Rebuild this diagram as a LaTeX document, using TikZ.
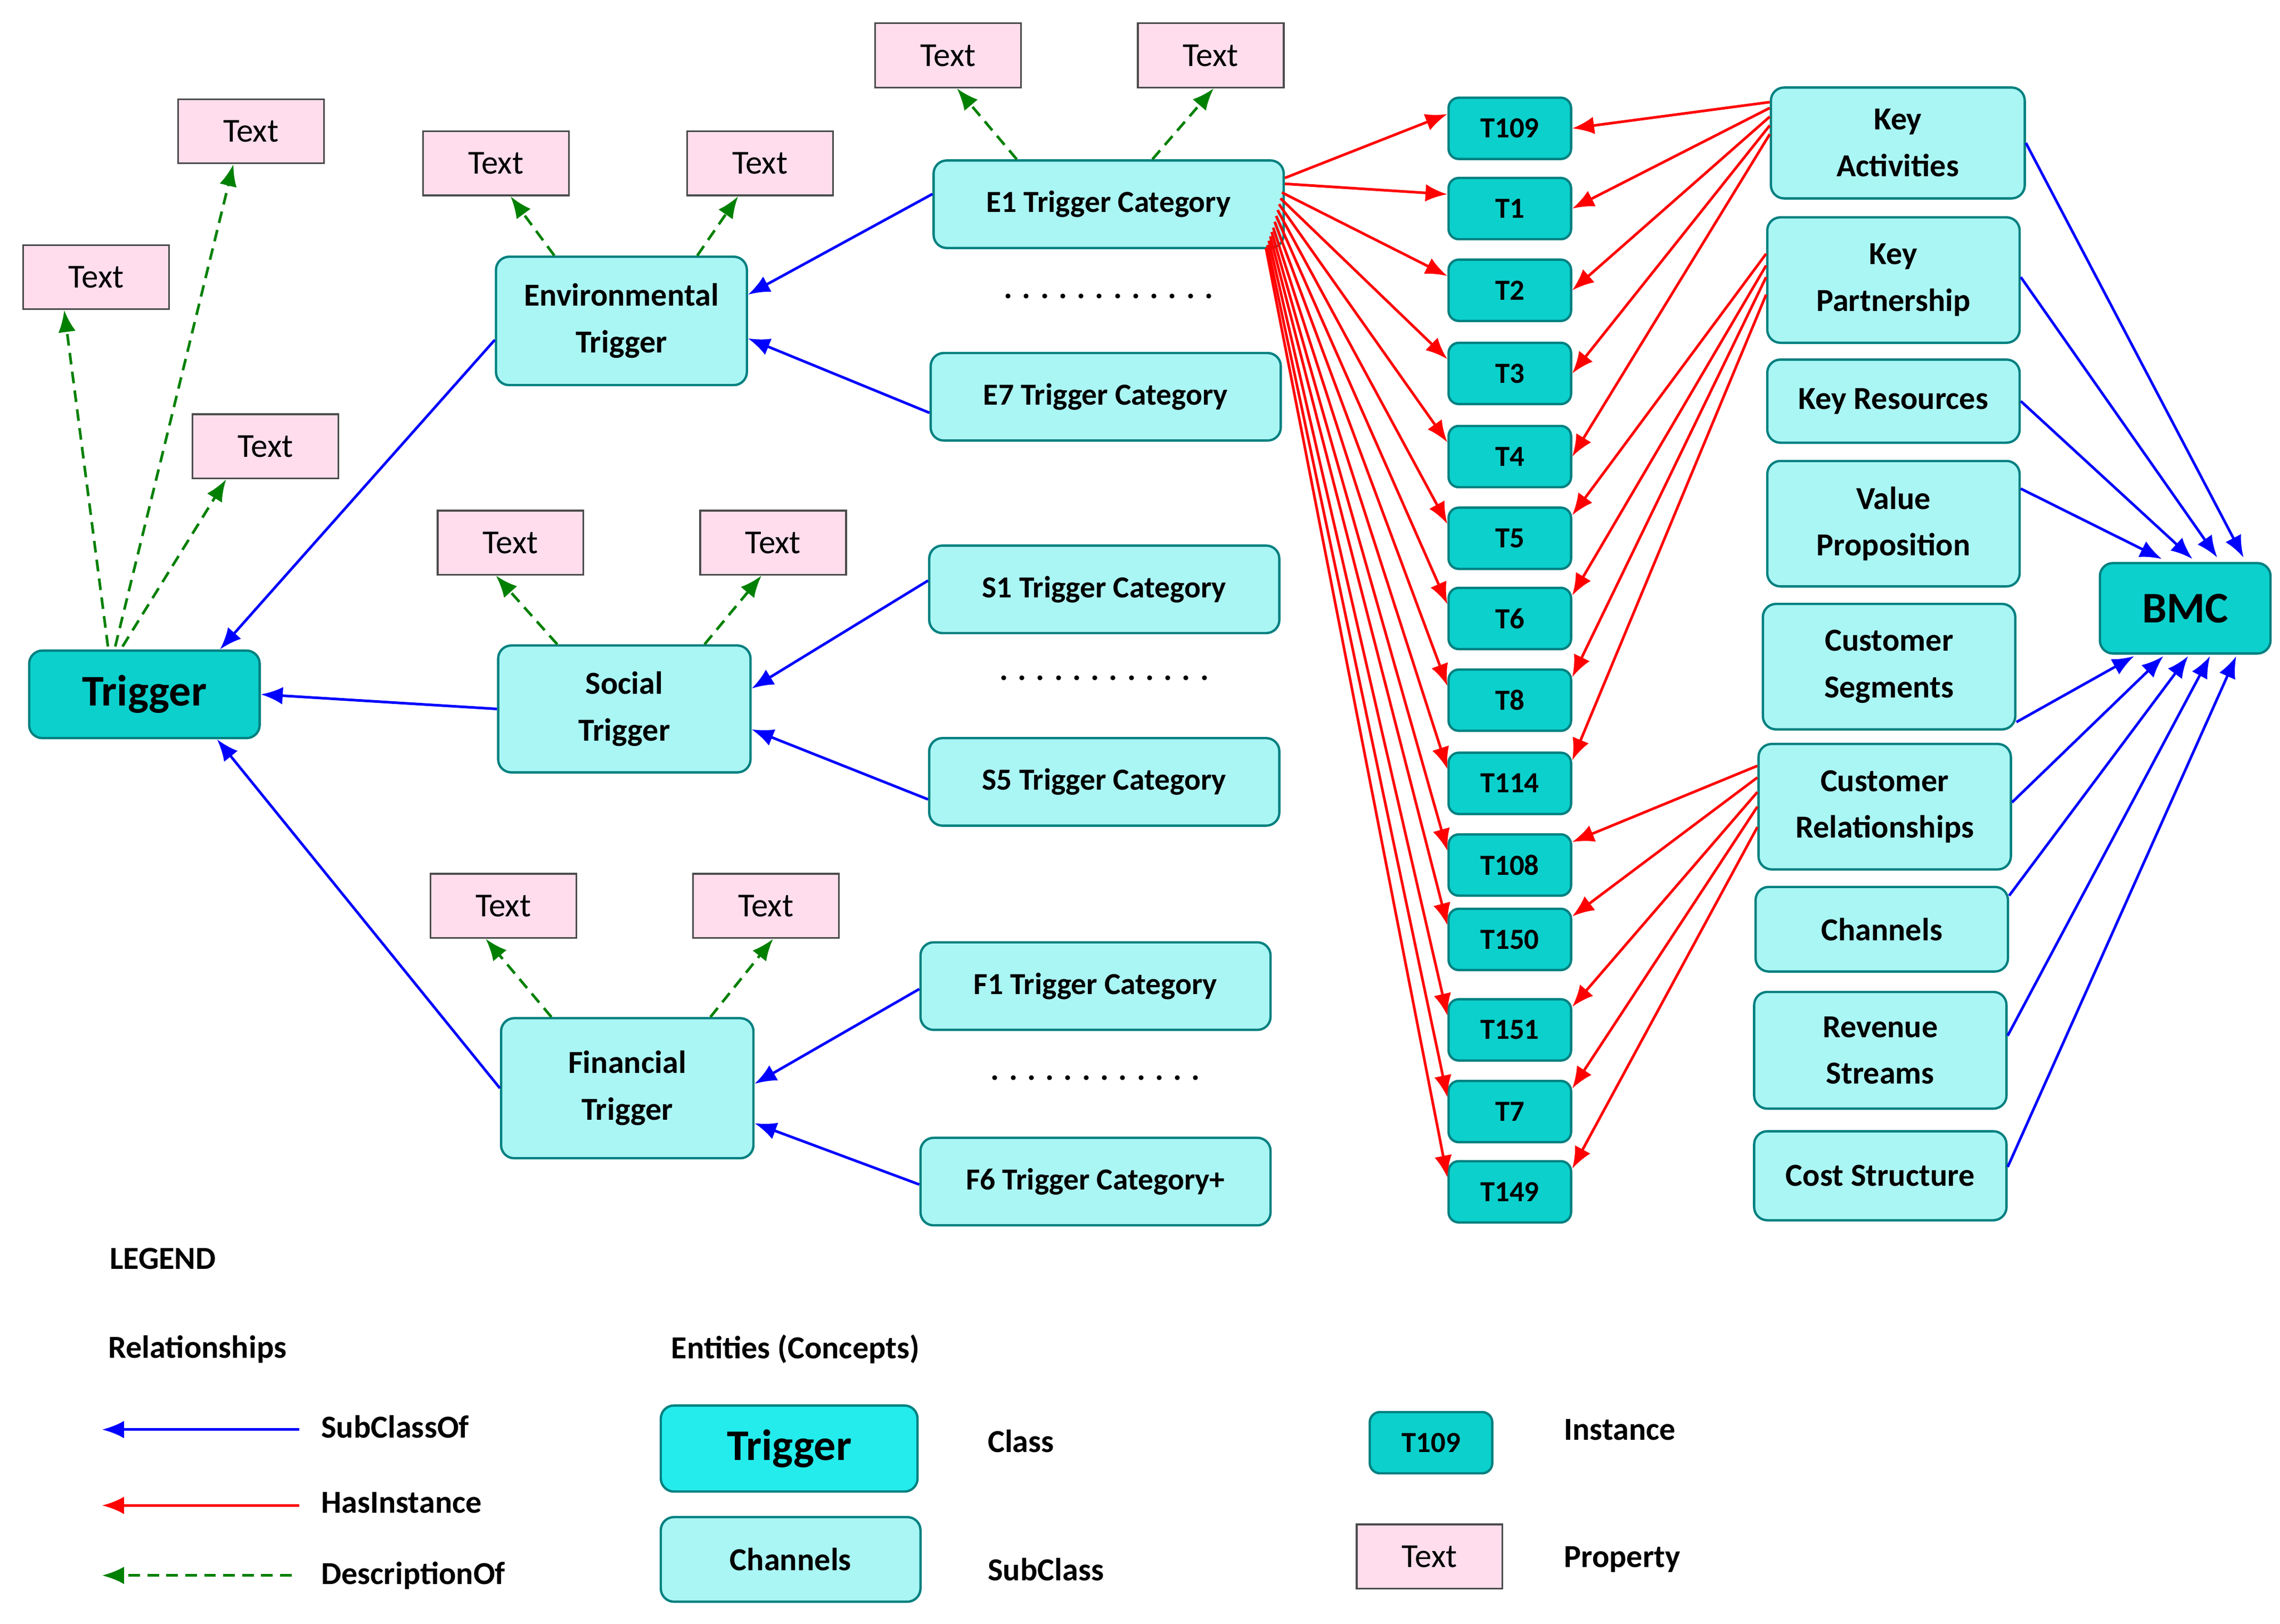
\documentclass[tikz,border=0pt]{standalone}
\usepackage{fontspec}
\setmainfont{Carlito}
\usetikzlibrary{arrows.meta,calc}
\definecolor{clsfill}{RGB}{12,208,204}
\definecolor{clsbright}{RGB}{36,236,236}
\definecolor{subfill}{RGB}{170,246,244}
\definecolor{bord}{RGB}{0,128,128}
\definecolor{pinkfill}{RGB}{255,221,236}
\definecolor{dgreen}{RGB}{0,128,0}
\tikzset{
 base/.style={draw=bord,line width=1.6pt,rounded corners=9pt,align=center,inner sep=0pt,font=\fontsize{22}{32}\selectfont\bfseries},
 sub/.style={base,fill=subfill},
 cls/.style={base,fill=clsfill,font=\fontsize{30}{36}\selectfont\bfseries},
 inst/.style={base,fill=clsfill,minimum width=84pt,minimum height=42pt,rounded corners=7pt,font=\fontsize{20}{24}\selectfont\bfseries},
 prop/.style={draw=black!70,line width=1.2pt,fill=pinkfill,minimum width=100pt,minimum height=44pt,inner sep=0pt,font=\fontsize{23}{26}\selectfont},
 blue/.style={draw=blue,line width=1.8pt,-{Latex[length=15pt,width=12pt]}},
 red/.style={draw=red,line width=1.8pt,-{Latex[length=15pt,width=12pt]}},
 green/.style={draw=dgreen,line width=1.8pt,dash pattern=on 8pt off 5pt,-{Latex[length=15pt,width=12pt]}},
 lbl/.style={anchor=west,inner sep=0pt,font=\fontsize{22}{26}\selectfont\bfseries},
}
\begin{document}
\begin{tikzpicture}[x=1pt,y=-1pt]
\useasboundingbox (0,0) rectangle (1563,1113);
% classes
\node[cls,minimum width=158pt,minimum height=60pt] (trig) at (99,476) {Trigger};
\node[sub,minimum width=172pt,minimum height=88pt] (env) at (426,220) {Environmental\\Trigger};
\node[sub,minimum width=173pt,minimum height=87pt] (soc) at (428,486) {Social\\Trigger};
\node[sub,minimum width=173pt,minimum height=96pt] (fin) at (430,746) {Financial\\Trigger};
\foreach \n/\x/\y/\t in {e1/760/140/E1 Trigger Category,e7/758/272/E7 Trigger Category,s1/757/404/S1 Trigger Category,s5/757/536/S5 Trigger Category,f1/751/676/F1 Trigger Category,f6/751/810/F6 Trigger Category+}
  \node[sub,minimum width=240pt,minimum height=60pt,font=\fontsize{21}{24}\selectfont\bfseries] (\n) at (\x,\y) {\t};
\node[font=\fontsize{22}{24}\selectfont\bfseries] (d1) at (760,203) {. . . . . . . . . . . .};
\node[font=\fontsize{22}{24}\selectfont\bfseries] (d2) at (757,465) {. . . . . . . . . . . .};
\node[font=\fontsize{22}{24}\selectfont\bfseries] (d3) at (751,739) {. . . . . . . . . . . .};
% text props
\foreach \n/\x/\y in {p1/172/90,p2/66/190,p3/182/306,p4/340/112,p5/521/112,p6/650/38,p7/830/38,p8/350/372,p9/530/372,p10/345/621,p11/525/621}
  \node[prop] (\n) at (\x,\y) {Text};
% instances
\foreach \n/\y/\t in {t109/88/T109,t1/143/T1,t2/199/T2,t3/256/T3,t4/313/T4,t5/369/T5,t6/424/T6,t8/480/T8,t114/537/T114,t108/593/T108,t150/644/T150,t151/706/T151,t7/762/T7,t149/817/T149}
  \node[inst] (\n) at (1035,\y) {\t};
% BMC blocks
\node[sub,minimum width=174pt,minimum height=76pt] (ka) at (1301,98) {Key\\Activities};
\node[sub,minimum width=173pt,minimum height=86pt] (kp) at (1298,192) {Key\\Partnership};
\node[sub,minimum width=173pt,minimum height=57pt] (kr) at (1298,275) {Key Resources};
\node[sub,minimum width=173pt,minimum height=86pt] (vp) at (1298,359) {Value\\Proposition};
\node[sub,minimum width=173pt,minimum height=86pt] (cs) at (1295,457) {Customer\\Segments};
\node[sub,minimum width=173pt,minimum height=86pt] (cr) at (1292,553) {Customer\\Relationships};
\node[sub,minimum width=173pt,minimum height=58pt] (ch) at (1290,637) {Channels};
\node[sub,minimum width=173pt,minimum height=80pt] (rs) at (1289,720) {Revenue\\Streams};
\node[sub,minimum width=173pt,minimum height=61pt] (cst) at (1289,806) {Cost Structure};
\node[cls,minimum width=117pt,minimum height=62pt] (bmc) at (1498,417) {BMC};
% blue subclass arrows
\draw[blue] (env.west |- 0,233) -- ($(trig.north east)+(-28,0)$);
\draw[blue] (soc.west) -- (trig.east);
\draw[blue] (fin.west) -- ($(trig.south east)+(-30,0)$);
\draw[blue] ($(e1.west)+(0,-7)$) -- ($(env.east)+(0,-18)$);
\draw[blue] ($(e7.west)+(0,11)$) -- ($(env.east)+(0,12)$);
\draw[blue] ($(s1.west)+(0,-6)$) -- ($(soc.east)+(0,-14)$);
\draw[blue] ($(s5.west)+(0,12)$) -- ($(soc.east)+(0,14)$);
\draw[blue] ($(f1.west)+(0,2)$) -- ($(fin.east)+(0,-3)$);
\draw[blue] ($(f6.west)+(0,2)$) -- ($(fin.east)+(0,24)$);
\draw[blue] ($(ka.east)+(0,0)$) -- ($(bmc.north)+(40,-3)$);
\draw[blue] ($(kp.east)+(0,-2)$) -- ($(bmc.north)+(22,-3)$);
\draw[blue] (kr.east) -- ($(bmc.north)+(5,-2)$);
\draw[blue] ($(vp.east)+(0,-24)$) -- ($(bmc.north)+(-16,-2)$);
\draw[blue] ($(cs.east)+(0,38)$) -- ($(bmc.south)+(-35,1)$);
\draw[blue] ($(cr.east)+(0,-3)$) -- ($(bmc.south)+(-15,1)$);
\draw[blue] ($(ch.east)+(0,-23)$) -- ($(bmc.south)+(2,1)$);
\draw[blue] ($(rs.east)+(0,-10)$) -- ($(bmc.south)+(17,1)$);
\draw[blue] ($(cst.east)+(0,-6)$) -- ($(bmc.south)+(35,1)$);
% green description arrows
\draw[green] ($(trig.north)+(-25,-2)$) -- ($(p2.south)+(-22,0)$);
\draw[green] ($(trig.north)+(-20,-2)$) -- ($(p1.south)+(-12,0)$);
\draw[green] ($(trig.north)+(-15,-2)$) -- ($(p3.south)+(-27,0)$);
\draw[green] ($(env.north)+(-46,0)$) -- ($(p4.south)+(10,0)$);
\draw[green] ($(env.north)+(52,0)$) -- ($(p5.south)+(-15,0)$);
\draw[green] ($(e1.north)+(-63,0)$) -- ($(p6.south)+(6,0)$);
\draw[green] ($(e1.north)+(30,0)$) -- ($(p7.south)+(2,0)$);
\draw[green] ($(soc.north)+(-46,0)$) -- ($(p8.south)+(-10,0)$);
\draw[green] ($(soc.north)+(55,0)$) -- ($(p9.south)+(-8,0)$);
\draw[green] ($(fin.north)+(-52,0)$) -- ($(p10.south)+(-12,0)$);
\draw[green] ($(fin.north)+(57,0)$) -- ($(p11.south)+(5,0)$);
% red instance arrows from E1
\foreach \n/\dx/\dy in {t109/0/-18,t1/0/-14,t2/-2/-8,t3/-3/-4,t4/-4/0,t5/-5/4,t6/-6/8,t8/-7/12,t114/-8/16,t108/-9/19,t150/-10/22,t151/-11/25,t7/-12/28,t149/-13/30}
  \draw[red] ($(e1.east)+(\dx,\dy)$) -- ($(\n.north west)+(0,12)$);
% red from Key Activities
\foreach \n/\dy in {t109/-28,t1/-24,t2/-18,t3/-12,t4/-6}
  \draw[red] ($(ka.west)+(0,\dy)$) -- (\n.east);
\foreach \n/\dy in {t5/-18,t6/-10,t8/-2,t114/10}
  \draw[red] ($(kp.west)+(0,\dy)$) -- ($(\n.north east)+(0,6)$);
\foreach \n/\dy in {t108/-28,t150/-20,t151/-10,t7/0,t149/14}
  \draw[red] ($(cr.west)+(0,\dy)$) -- ($(\n.north east)+(0,6)$);
% legend
\node[lbl] (lg) at (75,863) {LEGEND};
\node[lbl] (lr) at (74,925) {Relationships};
\node[lbl] (le) at (460,925) {Entities (Concepts)};
\coordinate (a1s) at (205,980); \coordinate (a1e) at (70,980);
\coordinate (a2s) at (205,1032); \coordinate (a2e) at (70,1032);
\coordinate (a3s) at (200,1080); \coordinate (a3e) at (70,1080);
\draw[blue] (a1s) -- (a1e);
\draw[red] (a2s) -- (a2e);
\draw[green] (a3s) -- (a3e);
\node[lbl] (l1) at (220,978) {SubClassOf};
\node[lbl] (l2) at (220,1030) {HasInstance};
\node[lbl] (l3) at (220,1080) {DescriptionOf};
\node[cls,fill=clsbright,minimum width=176pt,minimum height=59pt] (lt) at (541,993) {Trigger};
\node[sub,minimum width=178pt,minimum height=58pt] (lc) at (542,1069) {Channels};
\node[lbl] (l4) at (677,988) {Class};
\node[lbl] (l5) at (677,1076) {SubClass};
\node[inst] (li) at (981,989) {T109};
\node[prop] (lp) at (980,1067) {Text};
\node[lbl] (l6) at (1072,980) {Instance};
\node[lbl] (l7) at (1072,1069) {Property};
\end{tikzpicture}
\end{document}
